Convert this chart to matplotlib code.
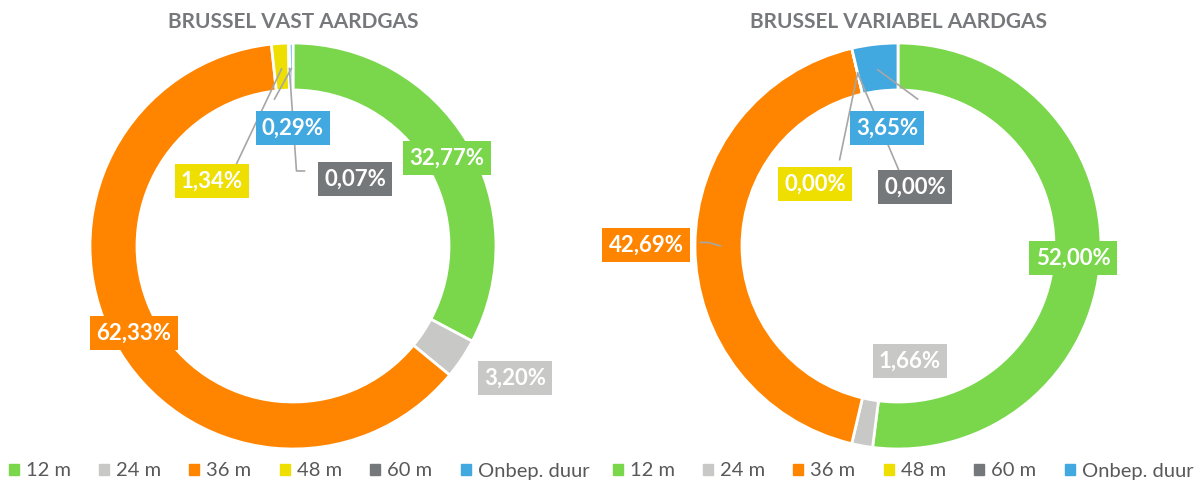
import matplotlib.pyplot as plt
import numpy as np
from matplotlib.patches import Patch

plt.rcParams['font.family'] = ['Lato', 'DejaVu Sans']

W, H = 1204, 487

# data
categories = ['12 m', '24 m', '36 m', '48 m', '60 m', 'Onbep. duur']
vast = [32.77, 3.20, 62.33, 1.34, 0.07, 0.29]
variabel = [52.00, 1.66, 42.69, 0.00, 0.00, 3.65]
titels = ['BRUSSEL VAST AARDGAS', 'BRUSSEL VARIABEL AARDGAS']

kleuren = ['#7AD74C', '#C8C8C6', '#FF8500', '#EEDF00', '#75787B', '#41A8E0']
titel_kleur = '#76787B'
lijn_kleur = '#A6A6A6'

# layout in pixels (vanaf linksboven)
centra = [(293, 246), (898, 246)]
R_OUT, RING = 203, 47
label_pos = [
    [(447, 158, None), (515, 378, None), (134, 333, None),
     (212, 181, 'right'), (355, 179, 'left'), (293, 128, 'top')],
    [(1073, 258, None), (910, 361, None), (646, 245, 'right'),
     (815, 184, 'top'), (915, 187, 'left'), (887, 128, 'top')],
]
legend_x = [299, 903]


def py(y):
    return H - y


def fmt(v):
    return f"{v:.2f}%".replace('.', ',')


fig = plt.figure(figsize=(W / 100, H / 100), dpi=100)
ax = fig.add_axes([0, 0, 1, 1])

teksten = []
for k, waarden in enumerate([vast, variabel]):
    cx, cy = centra[k]
    ax.pie(waarden, colors=kleuren, startangle=90, counterclock=False,
           radius=R_OUT, center=(cx, py(cy)), frame=True,
           wedgeprops=dict(width=RING, edgecolor='white', linewidth=2))
    ax.text(cx, py(22), titels[k], ha='center', va='center', fontsize=15,
            fontweight='bold', color=titel_kleur)

    totaal = sum(waarden)
    cum = 0
    for i, v in enumerate(waarden):
        mid = cum + v / 2
        cum += v
        hoek = np.deg2rad(90 - mid / totaal * 360)
        r_mid = R_OUT - RING / 2 - 2
        anker = (cx + r_mid * np.cos(hoek), py(cy) + r_mid * np.sin(hoek))
        lx, ly, kant = label_pos[k][i]
        t = ax.text(lx, py(ly), fmt(v), ha='center', va='center', fontsize=16,
                    fontweight='bold', color='white', zorder=5,
                    bbox=dict(boxstyle='square,pad=0.28', fc=kleuren[i], ec='none'))
        teksten.append((t, kant, anker))

fig.canvas.draw()
renderer = fig.canvas.get_renderer()
for t, kant, anker in teksten:
    if kant is None:
        continue
    bb = t.get_bbox_patch().get_window_extent(renderer)
    yc = (bb.y0 + bb.y1) / 2
    if kant == 'right':
        pts = [(bb.x1, yc), (bb.x1 + 8, yc), anker]
    elif kant == 'left':
        pts = [(bb.x0, yc), (bb.x0 - 8, yc), anker]
    else:
        xc = (bb.x0 + bb.x1) / 2
        pts = [(xc, bb.y1), anker]
    xs, ys = zip(*pts)
    ax.plot(xs, ys, color=lijn_kleur, lw=1.2, zorder=4)

handles = [Patch(color=c) for c in kleuren]
for lx in legend_x:
    fig.legend(handles, categories, loc='center', bbox_to_anchor=(lx / W, 1 - 471 / H),
               ncol=6, frameon=False, handlelength=0.5, handleheight=0.5,
               handletextpad=0.35, columnspacing=1.4, fontsize=14.5,
               labelcolor='#595959')

ax.set_xlim(0, W)
ax.set_ylim(0, H)
ax.set_aspect('auto')
ax.axis('off')

fig.savefig('out.png', dpi=100)
